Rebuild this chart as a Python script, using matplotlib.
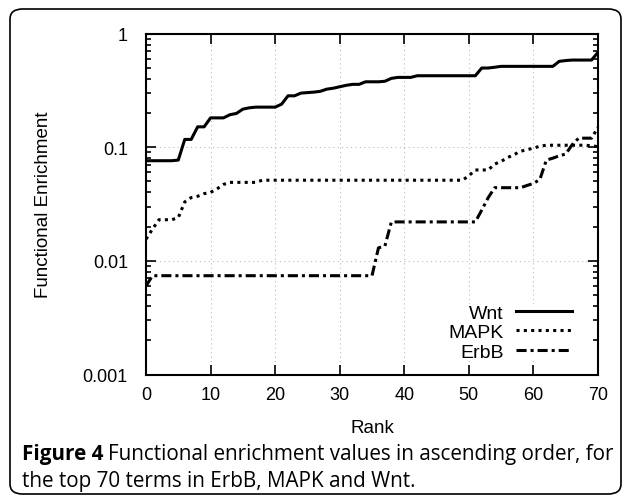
import numpy as np
import matplotlib
matplotlib.use("Agg")
import matplotlib.pyplot as plt
from matplotlib.patches import FancyBboxPatch

rank = list(range(71))

wnt = [0.076, 0.076, 0.076, 0.076, 0.076, 0.077, 0.117, 0.117, 0.151, 0.151,
       0.181, 0.181, 0.181, 0.193, 0.198, 0.216, 0.222, 0.225, 0.225, 0.225,
       0.225, 0.239, 0.283, 0.283, 0.299, 0.302, 0.305, 0.310, 0.324, 0.330,
       0.340, 0.350, 0.357, 0.357, 0.376, 0.376, 0.376, 0.380, 0.403, 0.411,
       0.411, 0.411, 0.425, 0.425, 0.425, 0.425, 0.425, 0.425, 0.425, 0.425,
       0.425, 0.425, 0.497, 0.497, 0.505, 0.514, 0.514, 0.514, 0.514, 0.514,
       0.514, 0.514, 0.514, 0.514, 0.569, 0.578, 0.584, 0.584, 0.584, 0.584,
       0.683]

mapk = [0.0155, 0.019, 0.023, 0.023, 0.023, 0.024, 0.033, 0.036, 0.037, 0.039,
        0.040, 0.043, 0.047, 0.049, 0.049, 0.049, 0.049, 0.049, 0.0512, 0.0512,
        0.0512, 0.0512, 0.0512, 0.0512, 0.0512, 0.0512, 0.0512, 0.0512, 0.0512, 0.0512,
        0.0512, 0.0512, 0.0512, 0.0512, 0.0512, 0.0512, 0.0512, 0.0512, 0.0512, 0.0512,
        0.0512, 0.0512, 0.0512, 0.0512, 0.0512, 0.0512, 0.0512, 0.0512, 0.0512, 0.0512,
        0.056, 0.063, 0.063, 0.063, 0.071, 0.075, 0.081, 0.086, 0.092, 0.095,
        0.098, 0.102, 0.104, 0.104, 0.104, 0.104, 0.104, 0.104, 0.104, 0.103,
        0.101]

erbb = [0.006] + [0.0074] * 35 + [0.013, 0.0135] + [0.022] * 14 + \
       [0.028, 0.036, 0.044, 0.044, 0.044, 0.044, 0.044, 0.046, 0.048, 0.052,
        0.077, 0.080, 0.084, 0.087, 0.105, 0.120, 0.120, 0.120, 0.149]

series = [("Wnt", wnt, "-"), ("MAPK", mapk, (0, (1, 1.4))), ("ErbB", erbb, (0, (3.3, 1.3, 1, 1.3)))]

caption_1 = "Functional enrichment values in ascending order, for"
caption_2 = "the top 70 terms in ErbB, MAPK and Wnt."

plt.rcParams['font.family'] = ['Liberation Sans', 'DejaVu Sans']

fig = plt.figure(figsize=(6.3, 5.02), dpi=100)
ax = fig.add_axes([146 / 630, 1 - 375.5 / 502, 452 / 630, 341 / 502])

for name, vals, ls in series:
    ax.plot(rank, vals, color='black', linestyle=ls, linewidth=2.2, label=name)

ax.set_yscale('log')
ax.set_xlim(0, 70)
ax.set_ylim(0.001, 1)
ax.set_xticks(range(0, 71, 10))
ax.set_yticks([0.001, 0.01, 0.1, 1])
ax.set_yticklabels(['0.001', '0.01', '0.1', '1'])
ax.tick_params(which='both', direction='in', top=True, right=True, labelsize=13)
ax.tick_params(axis='y', pad=13)
ax.tick_params(axis='x', pad=8)
ax.tick_params(which='major', length=7, width=1.2)
ax.tick_params(which='minor', length=3.5, width=1.2)
for s in ax.spines.values():
    s.set_linewidth(1.5)
ax.grid(True, which='major', linestyle=(0, (1, 3)), color='#bbbbbb', linewidth=0.8)

ax.set_xlabel('Rank', fontsize=13.5, labelpad=12)
ax.set_ylabel('Functional Enrichment', fontsize=13.5, labelpad=22)

leg = ax.legend(loc='lower right', bbox_to_anchor=(0.965, 0.012), frameon=True,
                facecolor='white', edgecolor='none', framealpha=1, fancybox=False,
                markerfirst=False, fontsize=14, handlelength=2.9,
                labelspacing=0.1, handletextpad=0.62, borderpad=0.0)
for t in leg.get_texts():
    t.set_ha('right')

# rounded frame around whole figure
box = FancyBboxPatch((10 / 630, 7 / 502), 611 / 630, 485 / 502,
                     boxstyle="round,pad=0,rounding_size=0.02",
                     transform=fig.transFigure, fill=False,
                     edgecolor='black', linewidth=1.2)
fig.patches.append(box)

# caption
cap_font = ['Open Sans', 'DejaVu Sans']
cap_size = 14.9
y1 = 1 - 455 / 502
y2 = 1 - 482 / 502
t1 = fig.text(22 / 630, y1, 'Figure 4', fontsize=cap_size, fontweight='bold',
              family=cap_font, va='center')
fig.canvas.draw()
bb = t1.get_window_extent()
fig.text((bb.x1 + 5) / 630, y1, caption_1, fontsize=cap_size, fontweight='medium',
         family=cap_font, va='center')
fig.text(22 / 630, y2, caption_2, fontsize=cap_size, fontweight='medium',
         family=cap_font, va='center')

fig.savefig('out.png', dpi=100)
